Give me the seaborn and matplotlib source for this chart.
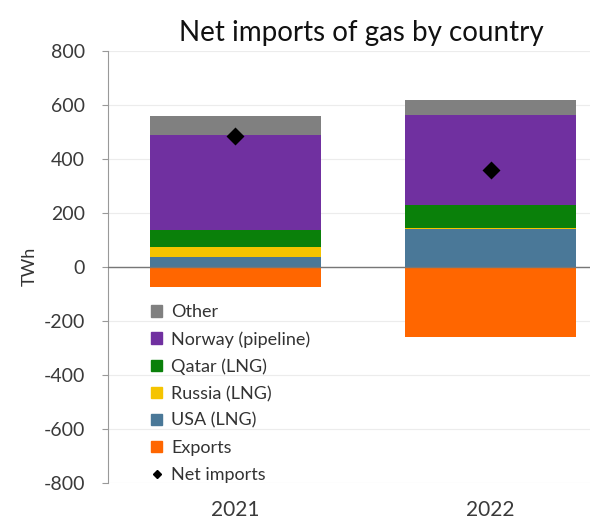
import matplotlib
matplotlib.use("Agg")
import pandas as pd
import seaborn as sns
from matplotlib import pyplot as plt
from matplotlib.patches import Patch
from matplotlib.lines import Line2D

# data (TWh)
years = ['2021', '2022']
usa = [37, 140]
russia = [37, 4]
qatar = [63, 85]
norway = [352, 333]
other = [70, 56]
exports = [-74, -259]
net_imports = [485, 359]

layers = [
    ('USA (LNG)', usa, '#4a7898'),
    ('Russia (LNG)', russia, '#f5c400'),
    ('Qatar (LNG)', qatar, '#0a800a'),
    ('Norway (pipeline)', norway, '#7030a0'),
    ('Other', other, '#808080'),
]

sns.set_style('white')
plt.rcParams['font.family'] = ['Lato', 'DejaVu Sans']
plt.rcParams['axes.unicode_minus'] = False

fig = plt.figure(figsize=(5.9, 5.23), dpi=100)
ax = fig.add_axes([0.183, 0.077, 0.817, 0.826])

# stacked positive layers
bottom = [0, 0]
for name, vals, col in layers:
    df = pd.DataFrame({'year': years, 'val': vals})
    sns.barplot(data=df, x='year', y='val', color=col, width=0.67,
                bottom=bottom, ax=ax, saturation=1, linewidth=0,
                edgecolor='none', zorder=3)
    bottom = [b + v for b, v in zip(bottom, vals)]

# exports below zero
df_exp = pd.DataFrame({'year': years, 'val': exports})
sns.barplot(data=df_exp, x='year', y='val', color='#ff6600', width=0.67,
            ax=ax, saturation=1, linewidth=0, edgecolor='none', zorder=3)

# net imports
df_net = pd.DataFrame({'year': years, 'val': net_imports})
sns.pointplot(data=df_net, x='year', y='val', color='black', linestyle='none',
              marker='D', markersize=7, ax=ax, zorder=5)

ax.set_ylim(-800, 800)
ax.set_xlim(-0.5, 1.39)
ax.set_yticks(range(-800, 801, 200))
ax.set_ylabel('TWh', fontsize=13, color='#333333', labelpad=4)
ax.set_xlabel('')
ax.yaxis.grid(True, color='#ececec', linewidth=0.8, zorder=0)
ax.set_axisbelow(True)
ax.axhline(0, color='#777777', linewidth=1.0, zorder=4)

for s in ['top', 'right', 'bottom']:
    ax.spines[s].set_visible(False)
ax.spines['left'].set_color('#999999')
ax.tick_params(axis='y', left=True, length=4.5, color='#999999', pad=12,
               labelsize=14, labelcolor='#3a3a3a')
ax.tick_params(axis='x', bottom=False, labelsize=15, labelcolor='#3a3a3a', pad=9)

fig.text(0.612, 0.937, 'Net imports of gas by country', ha='center', va='center',
         fontsize=20, color='#111111')

handles = [
    Patch(color='#808080', label='Other'),
    Patch(color='#7030a0', label='Norway (pipeline)'),
    Patch(color='#0a800a', label='Qatar (LNG)'),
    Patch(color='#f5c400', label='Russia (LNG)'),
    Patch(color='#4a7898', label='USA (LNG)'),
    Patch(color='#ff6600', label='Exports'),
    Line2D([], [], marker='D', color='black', linestyle='none',
           markersize=4, label='Net imports'),
]
leg = ax.legend(handles=handles, loc='upper left', bbox_to_anchor=(0.075, 0.43),
                frameon=False, fontsize=13, handlelength=0.6, handleheight=0.6,
                handletextpad=0.5, labelspacing=0.6, borderaxespad=0)
for t in leg.get_texts():
    t.set_color('#333333')

fig.savefig('out.png', dpi=100)
